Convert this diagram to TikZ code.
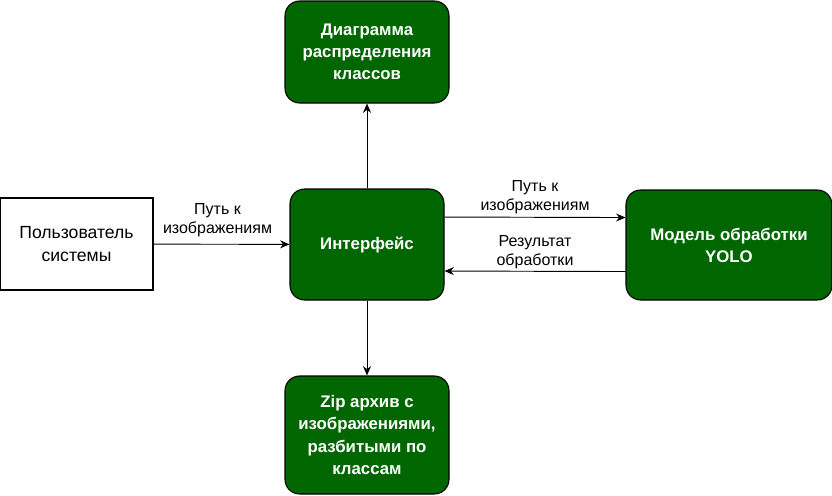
\documentclass[tikz,border=0pt]{standalone}
\usepackage{fontspec}
\setmainfont{Liberation Sans}
\usetikzlibrary{arrows.meta, positioning}
\definecolor{boxgreen}{RGB}{0,102,0}

\begin{document}
\begin{tikzpicture}[x=0.75pt, y=-0.75pt,
        block/.style={rectangle, rounded corners=11pt, draw=black, fill=boxgreen, text=white, line width=0.8pt, inner sep=0pt, align=center, font=\bfseries\fontsize{12.6}{16.6}\selectfont},
        actor/.style={rectangle, draw=black, fill=white, line width=0.8pt, inner sep=0pt, align=center, font=\fontsize{13.2}{16.8}\selectfont},
        lbl/.style={align=center, inner sep=2pt, font=\fontsize{12}{14.5}\selectfont},
        arr/.style={-{Stealth[length=7pt, width=6pt]}, line width=0.7pt}]
        \useasboundingbox (0,0) rectangle (832,496);

        \node[actor, minimum width=114.75pt, minimum height=69pt] (user) at (76.5,244) {Пользователь\\системы};
        \node[block, minimum width=115.5pt, minimum height=83.25pt] (ui) at (367,244.5) {Интерфейс};
        \node[block, minimum width=123pt, minimum height=76.5pt] (chart) at (367,52) {Диаграмма\\распределения\\классов};
        \node[block, minimum width=123pt, minimum height=88.5pt] (zip) at (367,435) {Zip архив с\\изображениями,\\разбитыми по\\классам};
        \node[block, minimum width=154.5pt, minimum height=82.5pt] (yolo) at (729,245) {Модель обработки\\YOLO};

        \draw[arr] (user) -- (ui) node[lbl, midway, above=3pt, xshift=-3pt] {Путь к\\изображениям};
        \draw[arr] ([yshift=20.6pt]ui.east) -- ([yshift=20.6pt]yolo.west) node[lbl, midway, above=0pt] {Путь к\\изображениям};
        \draw[arr] ([yshift=-19.9pt]yolo.west) -- ([yshift=-19.9pt]ui.east) node[lbl, midway, above=-0.5pt] {Результат\\обработки};
        \draw[arr] (ui) -- (chart);
        \draw[arr] (ui) -- (zip);
    \end{tikzpicture}
\end{document}
